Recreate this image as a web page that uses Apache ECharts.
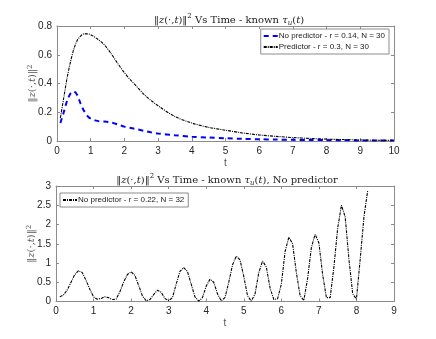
<!DOCTYPE html>
<html>
<head>
<meta charset="utf-8">
<script src="https://cdn.jsdelivr.net/npm/echarts@6/dist/echarts.min.js"></script>
<style>
  html, body { margin: 0; padding: 0; background: #fff; }
  #chart { width: 436px; height: 339px; }
</style>
</head>
<body>
<div id="chart"></div>
<script>
// top plot: known tau_u(t)
const tTop = [0.1, 0.2, 0.3, 0.4, 0.5, 0.6, 0.7, 0.8, 0.9, 1.0,
  1.2, 1.4, 1.6, 1.8, 2.0, 2.2, 2.4, 2.6, 2.8, 3.0,
  3.5, 4.0, 4.5, 5.0, 5.5, 6.0, 6.5, 7.0, 7.5, 8.0, 8.5, 9.0, 9.5, 10];
const noPredictor = [0.125, 0.20, 0.28, 0.33, 0.345, 0.32, 0.26, 0.21, 0.175, 0.155,
  0.14, 0.135, 0.13, 0.115, 0.10, 0.09, 0.08, 0.07, 0.06, 0.052,
  0.04, 0.03, 0.024, 0.019, 0.015, 0.012, 0.01, 0.008, 0.007, 0.006, 0.005, 0.004, 0.004, 0.003];
const predictor = [0.16, 0.30, 0.44, 0.55, 0.64, 0.70, 0.73, 0.745, 0.745, 0.74,
  0.71, 0.67, 0.61, 0.54, 0.475, 0.42, 0.37, 0.32, 0.28, 0.245,
  0.17, 0.125, 0.095, 0.075, 0.056, 0.042, 0.032, 0.024, 0.018, 0.013, 0.01, 0.007, 0.005, 0.004];

// bottom plot: no predictor, r = 0.22
const tBottom = [];
for (let i = 1; i <= 83; i++) tBottom.push(+(i / 10).toFixed(1));
const noPredBottom = [0.12, 0.17, 0.30, 0.50, 0.70, 0.80, 0.75, 0.55, 0.32, 0.12,
  0.06, 0.08, 0.12, 0.10, 0.05, 0.06, 0.25, 0.50, 0.70, 0.77,
  0.68, 0.42, 0.15, 0.02, 0.05, 0.18, 0.29, 0.24, 0.08, 0.02,
  0.10, 0.45, 0.78, 0.88, 0.78, 0.45, 0.12, 0.01, 0.10, 0.40,
  0.58, 0.50, 0.20, 0.02, 0.10, 0.50, 0.95, 1.18, 1.08, 0.65,
  0.15, 0.01, 0.20, 0.75, 1.05, 0.90, 0.35, 0.05, 0.07, 0.45,
  1.30, 1.67, 1.50, 0.75, 0.15, 0.03, 0.60, 1.40, 1.75, 1.52,
  0.70, 0.10, 0.10, 0.90, 1.90, 2.50, 2.20, 1.10, 0.20, 0.06,
  1.10, 2.20, 2.88];

const font = 'Liberation Sans';
const boxColor = '#8c8c8c';
const labelColor = '#262626';
const dashDot = [3, 1, 1, 1];

function pairs(xs, ys) {
  return xs.map((x, i) => [x, ys[i]]);
}

const titleRich = {
  n: { fontFamily: 'DejaVu Serif', fontWeight: 'normal', fontSize: 10, color: '#222' },
  i: { fontFamily: 'DejaVu Serif', fontWeight: 'normal', fontStyle: 'italic', fontSize: 10, color: '#222' },
  sup: { fontFamily: 'DejaVu Serif', fontWeight: 'normal', fontSize: 7, color: '#222', verticalAlign: 'top', lineHeight: 8 },
  sub: { fontFamily: 'DejaVu Serif', fontWeight: 'normal', fontStyle: 'italic', fontSize: 7, color: '#222', verticalAlign: 'bottom', lineHeight: 14 }
};

const yNameRich = {
  n: { fontFamily: 'DejaVu Serif', fontSize: 10, color: '#555' },
  i: { fontFamily: 'DejaVu Serif', fontStyle: 'italic', fontSize: 10, color: '#555' },
  sup: { fontFamily: 'DejaVu Serif', fontSize: 7, color: '#555', verticalAlign: 'top' }
};
const yName = '{n|‖}{i|z}{n|(·,}{i|t}{n|)‖}{sup|2}';

function xAxisMain(grid, max) {
  return {
    gridIndex: grid, type: 'value', min: 0, max: max, interval: 1,
    name: 't', nameLocation: 'middle', nameGap: 17,
    nameTextStyle: { fontFamily: font, fontSize: 10, color: '#555' },
    axisLine: { onZero: false, lineStyle: { color: boxColor, width: 1 } },
    axisTick: { inside: true, length: 3, lineStyle: { color: boxColor } },
    axisLabel: { fontFamily: font, fontSize: 10, color: labelColor, margin: 5 },
    splitLine: { show: false }
  };
}
function xAxisTop(grid, max) {
  return {
    gridIndex: grid, type: 'value', position: 'top', min: 0, max: max, interval: 1,
    axisLine: { onZero: false, lineStyle: { color: boxColor, width: 1 } },
    axisTick: { inside: true, length: 3, lineStyle: { color: boxColor } },
    axisLabel: { show: false },
    splitLine: { show: false }
  };
}
function yAxisMain(grid, max, interval, gap) {
  return {
    gridIndex: grid, type: 'value', min: 0, max: max, interval: interval,
    name: yName, nameLocation: 'middle', nameGap: gap, nameRotate: 90,
    nameMoveOverlap: false,
    nameTextStyle: { rich: yNameRich },
    axisLine: { show: true, onZero: false, lineStyle: { color: boxColor, width: 1 } },
    axisTick: { show: true, inside: true, length: 3, lineStyle: { color: boxColor } },
    axisLabel: { fontFamily: font, fontSize: 10, color: labelColor, margin: 5 },
    splitLine: { show: false }
  };
}
function yAxisRight(grid, max, interval) {
  return {
    gridIndex: grid, type: 'value', position: 'right', min: 0, max: max, interval: interval,
    axisLine: { show: true, onZero: false, lineStyle: { color: boxColor, width: 1 } },
    axisTick: { show: true, inside: true, length: 3, lineStyle: { color: boxColor } },
    axisLabel: { show: false },
    splitLine: { show: false }
  };
}

const legendBase = {
  orient: 'vertical',
  backgroundColor: '#fff',
  borderColor: '#8c8c8c',
  borderWidth: 1,
  borderRadius: 0,
  padding: [3, 4, 3, 2],
  itemGap: 3,
  itemWidth: 14,
  itemHeight: 8,
  itemStyle: { opacity: 0 },
  textStyle: { fontFamily: font, fontSize: 8, color: '#222', padding: [0, 0, 0, -4] }
};

const option = {
  animation: false,
  backgroundColor: '#fff',
  title: [
    {
      text: '{n|‖}{i|z}{n|(·,}{i|t}{n|)‖}{sup|2}{n| Vs Time - known }{i|τ}{sub|u}{n|(}{i|t}{n|)}',
      left: 224, top: 8, textAlign: 'center',
      textStyle: { fontWeight: 'normal', rich: titleRich }
    },
    {
      text: '{n|‖}{i|z}{n|(·,}{i|t}{n|)‖}{sup|2}{n| Vs Time - known }{i|τ}{sub|u}{n|(}{i|t}{n|), No predictor}',
      left: 222, top: 168, textAlign: 'center',
      textStyle: { fontWeight: 'normal', rich: titleRich }
    }
  ],
  legend: [
    Object.assign({}, legendBase, {
      right: 47, top: 29,
      data: ['No predictor - r = 0.14, N = 30', 'Predictor - r = 0.3, N = 30']
    }),
    Object.assign({}, legendBase, {
      left: 60, top: 193,
      data: ['No predictor - r = 0.22, N = 32']
    })
  ],
  grid: [
    { left: 57, right: 42, top: 26, height: 115 },
    { left: 56, right: 42, top: 186, height: 115.5 }
  ],
  xAxis: [xAxisMain(0, 10), xAxisTop(0, 10), xAxisMain(1, 9), xAxisTop(1, 9)],
  yAxis: [yAxisMain(0, 0.8, 0.2, 20), yAxisRight(0, 0.8, 0.2), yAxisMain(1, 3, 0.5, 20), yAxisRight(1, 3, 0.5)],
  series: [
    {
      name: 'No predictor - r = 0.14, N = 30', type: 'line',
      xAxisIndex: 0, yAxisIndex: 0, symbol: 'none', smooth: 0.3,
      lineStyle: { color: '#0000ff', width: 2, type: [5, 4] },
      itemStyle: { color: '#0000ff' },
      data: pairs(tTop, noPredictor)
    },
    {
      name: 'Predictor - r = 0.3, N = 30', type: 'line',
      xAxisIndex: 0, yAxisIndex: 0, symbol: 'none', smooth: 0.3,
      lineStyle: { color: '#000', width: 1.1, type: dashDot },
      itemStyle: { color: '#000' },
      data: pairs(tTop, predictor)
    },
    {
      name: 'No predictor - r = 0.22, N = 32', type: 'line',
      xAxisIndex: 2, yAxisIndex: 2, symbol: 'none',
      lineStyle: { color: '#000', width: 1.1, type: dashDot },
      itemStyle: { color: '#000' },
      data: pairs(tBottom, noPredBottom)
    }
  ]
};

const myChart = echarts.init(document.getElementById('chart'));
myChart.setOption(option);
</script>
</body>
</html>
